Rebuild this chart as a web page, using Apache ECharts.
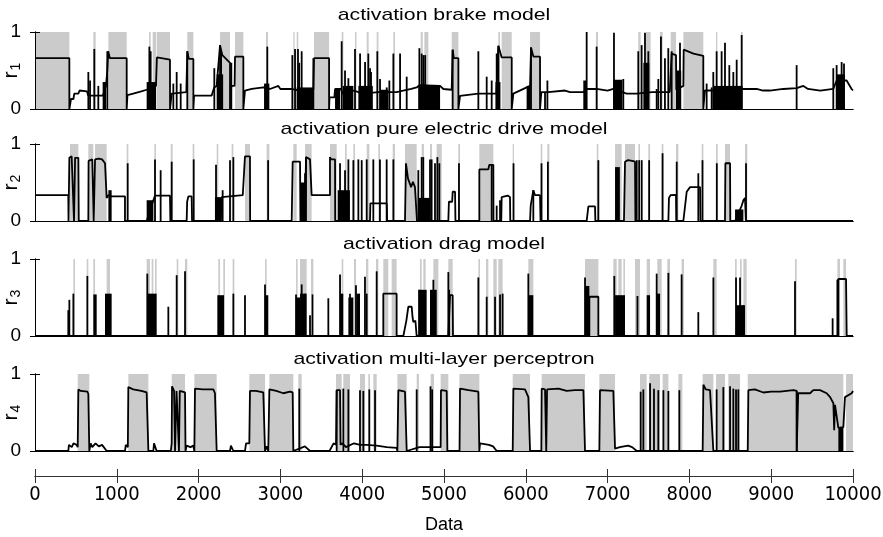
<!DOCTYPE html>
<html>
<head>
<meta charset="utf-8">
<script src="https://cdn.jsdelivr.net/npm/echarts@6/dist/echarts.min.js"></script>
<style>
  html, body { margin: 0; padding: 0; background: #fff; }
  #chart { width: 883px; height: 537px; }
</style>
</head>
<body>
<div id="chart"></div>
<script>
const titles = [
  'activation brake model',
  'activation pure electric drive model',
  'activation drag model',
  'activation multi-layer perceptron'
]
const xTicks = [0, 1000, 2000, 3000, 4000, 5000, 6000, 7000, 8000, 9000, 10000]
const yTicks = [0, 1]

// brake model
const r1Line = [
  [0, 0.66], [420, 0.66], [420, 0], [440, 0.13], [470, 0.13], [480, 0.2], [530, 0.2], [545, 0.24], [635, 0.23],
  [650, 0.175], [830, 0.175], [868, 0.3], [884, 0.5], [895, 0.75], [915, 0.66], [1121, 0.66], [1121, 0],
  [1130, 0.18], [1200, 0.2], [1300, 0.23], [1365, 0.25], [1479, 0.3], [1490, 0.67], [1650, 0.64], [1651, 0],
  [1671, 0.2], [1850, 0.22], [1862, 0.75], [1880, 0.65], [1936, 0.65], [1936, 0], [1945, 0.175], [2160, 0.175],
  [2190, 0.28], [2221, 0.3], [2262, 0.83], [2290, 0.7], [2384, 0.6], [2384, 0], [2400, 0.3], [2440, 0.3],
  [2445, 0.68], [2547, 0.68], [2547, 0], [2567, 0.24], [2650, 0.26], [2792, 0.28], [2873, 0.26], [2975, 0.3],
  [3000, 0.26], [3138, 0.26], [3300, 0.22], [3403, 0.25], [3411, 0.66], [3595, 0.66], [3595, 0], [3600, 0.15],
  [3660, 0.15], [3668, 0.26], [3740, 0.26], [3760, 0.2], [3900, 0.24], [4000, 0.2], [4200, 0.22], [4422, 0.22],
  [4500, 0.24], [4600, 0.26], [4666, 0.28], [4700, 0.31], [4952, 0.3], [4992, 0.26], [5094, 0.25], [5106, 0.77],
  [5120, 0.66], [5176, 0.66], [5176, 0], [5196, 0.17], [5420, 0.2], [5640, 0.2], [5665, 0.82], [5705, 0.67],
  [5828, 0.67], [5828, 0], [5848, 0.2], [6011, 0.28], [6052, 0.3], [6064, 0.8], [6093, 0.68], [6174, 0.68],
  [6174, 0], [6190, 0.22], [6276, 0.22], [6480, 0.24], [6540, 0.22], [6703, 0.22], [6744, 0.26], [6866, 0.26],
  [7000, 0.24], [7070, 0.26], [7233, 0.2], [7355, 0.2], [7540, 0.22], [7640, 0.22], [7760, 0.22], [7783, 0.72],
  [7836, 0.7], [7840, 0.25], [7926, 0.3], [7930, 0.77], [8050, 0.72], [8170, 0.69], [8170, 0], [8190, 0.24],
  [8292, 0.24], [8660, 0.26], [8822, 0.26], [8900, 0.24], [8985, 0.24], [9148, 0.26], [9311, 0.27], [9393, 0.3],
  [9450, 0.26], [9600, 0.24], [9759, 0.26], [9800, 0.37], [9922, 0.37], [9983, 0.26], [10000, 0.24]
]
const r1Spikes = [
  [652, 0.48], [673, 0.37], [725, 0.78], [774, 0.3], [884, 0.75], [1398, 0.81], [1414, 0.75], [1691, 0.33],
  [1732, 0.48], [1781, 0.33], [1862, 0.75], [2192, 0.53], [2262, 0.83], [2275, 0.75], [2400, 0.6], [2840, 0.81],
  [3146, 0.7], [3179, 0.78], [3215, 0.78], [3230, 0.6], [3260, 0.75], [3403, 0.66], [3749, 0.88], [3790, 0.5],
  [3831, 0.4], [3912, 0.78], [3974, 0.72], [4035, 0.61], [4075, 0.72], [4096, 0.53], [4108, 0.48], [4185, 0.75],
  [4218, 0.39], [4300, 0.28], [4332, 0.37], [4381, 0.72], [4463, 0.72], [4544, 0.42], [4699, 0.79], [4727, 0.72],
  [4748, 0.7], [4770, 0.7], [5106, 0.77], [5420, 0.75], [5522, 0.42], [5583, 0.37], [5644, 0.72], [5665, 0.82],
  [6064, 0.8], [6235, 0.22], [6264, 0.37], [6744, 1.0], [6866, 0.81], [7078, 0.99], [7111, 0.37], [7192, 0.39],
  [7375, 0.75], [7416, 0.83], [7457, 0.99], [7498, 0.75], [7600, 0.26], [7620, 0.39], [7652, 0.94], [7701, 0.66],
  [7742, 0.79], [7783, 0.75], [7885, 0.86], [8211, 0.33], [8272, 0.28], [8292, 0.48], [8333, 0.75], [8394, 0.75],
  [8435, 0.86], [8488, 0.57], [8537, 0.48], [8578, 0.64], [8639, 0.96], [9311, 0.57], [9759, 0.53], [9800, 0.57],
  [9861, 0.61], [9890, 0.59]
]
const r1Blocks = [
  [827, 868, 0.35], [1365, 1480, 0.35], [2221, 2300, 0.45], [2800, 2865, 0.33], [3199, 3400, 0.28],
  [3668, 3729, 0.26], [3762, 3892, 0.3], [3953, 4130, 0.3], [4218, 4320, 0.25], [4687, 4952, 0.31],
  [5630, 5690, 0.35], [6010, 6060, 0.3], [6703, 6744, 0.37], [7070, 7180, 0.38], [7437, 7510, 0.6],
  [7836, 7900, 0.5], [8292, 8650, 0.3], [9800, 9900, 0.45]
]
const r1Shade = [
  [0, 420], [713, 742], [897, 1121], [1394, 1414], [1439, 1479], [1488, 1651], [1862, 1936], [2262, 2384],
  [2445, 2547], [2824, 2848], [3158, 3174], [3199, 3219], [3411, 3595], [3749, 3770], [3912, 3930], [4055, 4079],
  [4177, 4198], [4381, 4401], [4715, 4740], [4760, 4809], [5094, 5176], [5664, 5685], [5705, 5828], [6052, 6174],
  [6858, 6882], [7375, 7404], [7469, 7526], [7640, 7673], [7771, 7836], [7926, 8170], [8325, 8341], [8631, 8651]
]

// pure electric drive model
const r2Line = [
  [0, 0.335], [407, 0.335], [410, 0], [420, 0], [420, 0.82], [448, 0.84], [460, 0.86], [470, 0.82], [477, 0],
  [490, 0.82], [530, 0.82], [535, 0], [652, 0], [655, 0.78], [700, 0.8], [713, 0.8], [718, 0], [734, 0.8],
  [780, 0.81], [820, 0.8], [856, 0.75], [876, 0.3], [897, 0.335], [937, 0.32], [1100, 0.32], [1100, 0],
  [1365, 0], [1447, 0.27], [1467, 0.33], [1650, 0.33], [1655, 0], [1854, 0], [1860, 0.25], [1875, 0.32],
  [1915, 0.32], [1920, 0], [2270, 0], [2282, 0.31], [2300, 0.335], [2540, 0.335], [2567, 0.84], [2628, 0.84],
  [2630, 0], [3138, 0], [3150, 0.77], [3240, 0.77], [3245, 0], [3300, 0], [3313, 0.83], [3362, 0.8],
  [3382, 0.335], [3606, 0.335], [3606, 0.83], [3620, 0.8], [3668, 0.8], [3670, 0], [4095, 0], [4100, 0.23],
  [4300, 0.23], [4305, 0], [4523, 0], [4535, 0.75], [4560, 0.55], [4598, 0.44], [4620, 0.51], [4645, 0.44],
  [4666, 0.42], [4670, 0], [5053, 0], [5060, 0.25], [5100, 0.25], [5106, 0.38], [5135, 0.38], [5140, 0],
  [5432, 0], [5432, 0.67], [5542, 0.67], [5554, 0.73], [5603, 0.73], [5605, 0], [5700, 0], [5705, 0.31],
  [5780, 0.33], [5807, 0.31], [5810, 0], [6052, 0], [6060, 0.2], [6092, 0.4], [6113, 0.335], [6174, 0.335],
  [6180, 0], [6744, 0], [6765, 0.19], [6846, 0.19], [6850, 0], [7200, 0], [7213, 0.77], [7250, 0.79],
  [7300, 0.78], [7335, 0.77], [7340, 0], [7743, 0], [7750, 0.3], [7770, 0.335], [7836, 0.34], [7840, 0],
  [7926, 0], [7967, 0.38], [8008, 0.44], [8130, 0.44], [8135, 0], [8435, 0], [8440, 0.75], [8497, 0.75],
  [8500, 0], [8558, 0], [8640, 0.2], [8660, 0.27], [8680, 0.3], [8690, 0], [10000, 0]
]
const r2Spikes = [
  [1133, 0.75], [1467, 0.8], [1536, 0.66], [1671, 0.77], [1940, 0.8], [2213, 0.73], [2294, 0.4], [2384, 0.79],
  [2425, 0.83], [2850, 0.79], [3301, 0.62], [3313, 0.83], [3729, 0.75], [3790, 0.66], [3831, 0.8], [3892, 0.79],
  [3953, 0.8], [3994, 0.79], [4055, 0.8], [4136, 0.8], [4217, 0.8], [4299, 0.8], [4381, 0.8], [4686, 0.66],
  [4727, 0.83], [4747, 0.83], [4829, 0.8], [4849, 0.8], [4890, 0.75], [4919, 0.83], [4943, 0.75], [5183, 0.75],
  [5583, 0.73], [5644, 0.2], [5685, 0.27], [5850, 0.75], [6092, 0.4], [6192, 0.75], [6270, 0.77], [6887, 0.79],
  [7356, 0.79], [7386, 0.79], [7417, 0.79], [7508, 0.79], [7672, 0.88], [7845, 0.77], [8109, 0.62], [8160, 0.79],
  [8335, 0.75], [8692, 0.75]
]
const r2Blocks = [
  [897, 937, 0.4], [1365, 1447, 0.27], [2200, 2282, 0.31], [3240, 3301, 0.5], [3700, 3850, 0.4],
  [4686, 4829, 0.3], [7091, 7150, 0.7], [8558, 8660, 0.15]
]
const r2Shade = [
  [428, 530], [652, 713], [734, 876], [1121, 1141], [1459, 1479], [1659, 1683], [1927, 1948], [2221, 2241],
  [2404, 2425], [2567, 2628], [2832, 2865], [3158, 3199], [3301, 3382], [3606, 3688], [3790, 3810], [3892, 3912],
  [4055, 4088], [4197, 4217], [4373, 4401], [4523, 4666], [4727, 4755], [4829, 4853], [4910, 4972], [5175, 5196],
  [5432, 5603], [5840, 5856], [6182, 6202], [6263, 6288], [6867, 6887], [7091, 7172], [7213, 7335], [7376, 7396],
  [7498, 7519], [7661, 7682], [7836, 7865], [8150, 8171], [8325, 8346], [8435, 8497], [8680, 8708]
]

// drag model
const r3Line = [
  [0, 0], [4258, 0], [4258, 0.55], [4421, 0.55], [4421, 0], [4503, 0], [4540, 0.2], [4564, 0.38], [4605, 0.38],
  [4615, 0.25], [4625, 0.18], [4650, 0.2], [4666, 0], [5053, 0], [5074, 0.53], [5106, 0.53], [5110, 0],
  [6777, 0], [6777, 0.51], [6887, 0.51], [6887, 0], [9821, 0], [9821, 0.74], [9915, 0.74], [9923, 0], [10000, 0]
]
const r3Spikes = [
  [407, 0.335], [420, 0.47], [469, 0.55], [640, 0.78], [1373, 0.81], [1630, 0.38], [1732, 0.79], [1834, 0.84],
  [2425, 0.55], [2567, 0.53], [2812, 0.67], [3191, 0.54], [3260, 0.67], [3301, 0.55], [3362, 0.27], [3586, 0.49],
  [3729, 0.8], [3851, 0.55], [3924, 0.66], [4034, 0.77], [4055, 0.55], [4177, 0.84], [4698, 0.6], [4747, 0.55],
  [4870, 0.73], [5053, 0.83], [5420, 0.76], [5522, 0.51], [5624, 0.51], [5685, 0.54], [5717, 0.55], [6031, 0.81],
  [6724, 0.76], [7082, 0.78], [7365, 0.52], [7600, 0.81], [7743, 0.82], [7905, 0.8], [8109, 0.31], [8293, 0.76],
  [8570, 0.76], [8619, 0.76], [8660, 0.4], [9291, 0.71], [9751, 0.23], [9809, 0.73]
]
const r3Blocks = [
  [713, 754, 0.54], [856, 937, 0.55], [1373, 1487, 0.55], [2229, 2311, 0.53], [2812, 2852, 0.53],
  [3191, 3240, 0.5], [3240, 3321, 0.55], [3382, 3403, 0.54], [3729, 3769, 0.55], [3831, 3892, 0.5],
  [3932, 3973, 0.55], [4686, 4788, 0.6], [4829, 4911, 0.6], [5053, 5074, 0.6], [6031, 6092, 0.53],
  [6724, 6777, 0.65], [7091, 7213, 0.53], [7478, 7519, 0.53], [7600, 7641, 0.55], [8570, 8680, 0.4],
  [9809, 9821, 0.74]
]
const r3Shade = [
  [469, 489], [632, 652], [713, 734], [876, 917], [1365, 1406], [1426, 1447], [1467, 1487], [1732, 1752],
  [1834, 1862], [2241, 2262], [2302, 2323], [2416, 2437], [2812, 2832], [3191, 3211], [3240, 3321], [3374, 3403],
  [3749, 3769], [3900, 3924], [4046, 4075], [4169, 4197], [4258, 4319], [4360, 4421], [4706, 4727], [4747, 4776],
  [4870, 4931], [5053, 5106], [5420, 5440], [5514, 5542], [5603, 5644], [5664, 5717], [6031, 6092], [6724, 6887],
  [7070, 7111], [7131, 7172], [7193, 7213], [7335, 7396], [7478, 7519], [7608, 7661], [7730, 7763], [7905, 7934],
  [8293, 8333], [8558, 8578], [8619, 8639], [8660, 8700], [9291, 9312], [9809, 9841], [9882, 9915]
]

// multi-layer perceptron
const r4Line = [
  [0, 0], [407, 0], [415, 0.08], [430, 0.1], [450, 0.05], [470, 0.1], [509, 0.08], [522, 0.05], [530, 0.8],
  [560, 0.78], [640, 0.77], [652, 0.74], [664, 0], [680, 0.1], [700, 0.05], [740, 0.1], [780, 0.06], [820, 0.08],
  [876, 0], [1100, 0], [1110, 0.08], [1135, 0.05], [1141, 0.83], [1200, 0.8], [1300, 0.78], [1365, 0.76],
  [1386, 0], [1447, 0], [1455, 0.1], [1470, 0.1], [1487, 0], [1660, 0], [1671, 0.1], [1675, 0.84], [1700, 0.78],
  [1712, 0.78], [1712, 0], [1730, 0.78], [1752, 0.78], [1760, 0], [1770, 0.78], [1834, 0.76], [1840, 0],
  [1854, 0.07], [1900, 0.05], [1936, 0.07], [1948, 0], [1956, 0.81], [2050, 0.8], [2180, 0.8], [2200, 0.75],
  [2221, 0], [2384, 0], [2395, 0.07], [2425, 0], [2567, 0], [2580, 0.1], [2620, 0.1], [2628, 0.78], [2700, 0.78],
  [2791, 0.76], [2812, 0], [2830, 0.06], [2852, 0], [2865, 0.8], [2950, 0.78], [3036, 0.75], [3117, 0.77],
  [3150, 0.76], [3158, 0], [3300, 0.06], [3362, 0], [3600, 0], [3650, 0.1], [3680, 0.08], [3688, 0.79],
  [3729, 0.79], [3735, 0.08], [3760, 0.1], [3800, 0.05], [3900, 0.1], [3973, 0.08], [4050, 0.08], [4177, 0.07],
  [4300, 0.05], [4421, 0.04], [4430, 0], [4442, 0.79], [4523, 0.77], [4544, 0], [4700, 0.05], [4837, 0.05],
  [4959, 0.05], [4963, 0.79], [5033, 0.78], [5041, 0], [5190, 0], [5196, 0.81], [5300, 0.79], [5420, 0.77],
  [5432, 0], [5440, 0.1], [5550, 0.08], [5600, 0.06], [5644, 0], [5840, 0], [5848, 0.81], [5990, 0.8],
  [6031, 0.7], [6052, 0], [6190, 0], [6194, 0.81], [6235, 0.8], [6250, 0], [6260, 0.8], [6400, 0.81],
  [6500, 0.78], [6600, 0.79], [6704, 0.79], [6724, 0], [6899, 0], [6907, 0.79], [7070, 0.78], [7091, 0.03],
  [7150, 0.05], [7250, 0.07], [7300, 0.05], [7356, 0], [8162, 0], [8171, 0.86], [8200, 0.8], [8252, 0.79],
  [8293, 0], [8713, 0], [8721, 0.79], [8800, 0.8], [8904, 0.76], [9000, 0.77], [9108, 0.77], [9271, 0.79],
  [9312, 0.78], [9312, 0], [9330, 0.75], [9475, 0.75], [9515, 0.79], [9597, 0.79], [9678, 0.75], [9720, 0.7],
  [9760, 0.62], [9770, 0.27], [9780, 0.6], [9821, 0.3], [9882, 0.31], [9902, 0.7], [9984, 0.75], [10000, 0.78]
]
const r4Spikes = [
  [3231, 0.81], [3688, 0.79], [3769, 0.81], [3831, 0.8], [3973, 0.79], [4014, 0.78], [4087, 0.8], [4157, 0.79],
  [4666, 0.8], [4835, 0.84], [4855, 0.8], [7404, 0.77], [7437, 0.8], [7519, 0.88], [7567, 0.81], [7620, 0.79],
  [7682, 0.79], [7743, 0.78], [7877, 0.79], [8333, 0.8], [8415, 0.83], [8497, 0.84], [8537, 0.81], [8570, 0.8],
  [8598, 0.8], [9312, 0.78]
]
const r4Blocks = [
  [9821, 9882, 0.31]
]
const r4Shade = [
  [522, 664], [1141, 1386], [1671, 1834], [1948, 2221], [2620, 2812], [2865, 3158], [3219, 3260], [3680, 3749],
  [3769, 3851], [3973, 4034], [4075, 4095], [4136, 4177], [4430, 4544], [4666, 4694], [4837, 4878], [4959, 5053],
  [5188, 5432], [5840, 6052], [6194, 6724], [6899, 7091], [7396, 7478], [7510, 7641], [7673, 7743], [7865, 7914],
  [8162, 8293], [8325, 8435], [8476, 8619], [8713, 9882], [9915, 10000]
]

const lines = [r1Line, r2Line, r3Line, r4Line]
const spikes = [r1Spikes, r2Spikes, r3Spikes, r4Spikes]
const blocks = [r1Blocks, r2Blocks, r3Blocks, r4Blocks]
const shades = [r1Shade, r2Shade, r3Shade, r4Shade]

const FONT = 'Liberation Sans, Arial, sans-serif'
const NARROW = '"Liberation Sans Narrow", "DejaVu Sans Condensed", sans-serif'
const SHADE = '#cbcbcb'
const INK = '#000000'
const LW = 1.8
const panelTops = [32, 144, 259, 374]
const panelHeight = 77
const titleCenters = [15, 129, 244, 359]

const chart = echarts.init(document.getElementById('chart'), null, { renderer: 'canvas' })

const grid = panelTops.map((top) => ({ left: 35, width: 818, top, height: panelHeight, outerBoundsMode: 'none' }))
grid.push({ left: 35, width: 818, top: 470, height: 6, outerBoundsMode: 'none' })

const xAxis = []
const yAxis = []
const series = []

panelTops.forEach((top, i) => {
  const base = {
    type: 'value', gridIndex: i, min: 0, max: 10000, interval: 1000, z: 10,
    axisLine: { show: true, lineStyle: { color: INK, width: 1 } },
    axisTick: { show: false }, axisLabel: { show: false }, splitLine: { show: false }
  }
  xAxis.push({ ...base, position: 'bottom' })
  xAxis.push({ ...base, position: 'top' })

  const yBase = {
    type: 'value', gridIndex: i, min: yTicks[0], max: yTicks[1], interval: 1, z: 10,
    axisLine: { show: true, lineStyle: { color: INK, width: 1 } },
    axisTick: { show: true, inside: true, length: 5, lineStyle: { color: INK } },
    splitLine: { show: false }
  }
  yAxis.push({
    ...yBase,
    position: 'left',
    axisLabel: { show: true, margin: 14, color: INK, fontSize: 19, fontFamily: FONT },
    name: `{r|r}{s|${i + 1}}`,
    nameLocation: 'middle',
    nameGap: 12,
    nameRotate: 90,
    nameMoveOverlap: false,
    nameTextStyle: {
      color: INK,
      fontFamily: FONT,
      rich: {
        r: { fontSize: 21, fontFamily: FONT, color: INK },
        s: { fontSize: 14, fontFamily: FONT, color: INK, padding: [10, 0, 0, 1] }
      }
    }
  })
  yAxis.push({ ...yBase, position: 'right', axisLabel: { show: false } })

  const xi = i * 2
  const yi = i * 2

  series.push({
    type: 'custom',
    xAxisIndex: xi,
    yAxisIndex: yi,
    z: 1,
    silent: true,
    clip: true,
    data: shades[i],
    encode: { x: [0, 1] },
    renderItem: (params, api) => {
      const a = api.coord([api.value(0), 1])
      const b = api.coord([api.value(1), 0])
      return {
        type: 'rect',
        shape: { x: a[0], y: a[1], width: Math.max(b[0] - a[0], 1), height: b[1] - a[1] },
        style: { fill: SHADE }
      }
    }
  })
  series.push({
    type: 'custom',
    xAxisIndex: xi,
    yAxisIndex: yi,
    z: 3,
    silent: true,
    clip: true,
    data: blocks[i],
    encode: { x: [0, 1], y: 2 },
    renderItem: (params, api) => {
      const a = api.coord([api.value(0), api.value(2)])
      const b = api.coord([api.value(1), 0])
      return {
        type: 'rect',
        shape: { x: a[0], y: a[1], width: b[0] - a[0], height: b[1] - a[1] },
        style: { fill: INK }
      }
    }
  })
  series.push({
    type: 'custom',
    xAxisIndex: xi,
    yAxisIndex: yi,
    z: 3,
    silent: true,
    clip: true,
    data: spikes[i],
    encode: { x: 0, y: 1 },
    renderItem: (params, api) => {
      const a = api.coord([api.value(0), 0])
      const b = api.coord([api.value(0), api.value(1)])
      return {
        type: 'line',
        shape: { x1: a[0], y1: a[1], x2: b[0], y2: b[1] },
        style: { stroke: INK, lineWidth: LW }
      }
    }
  })
  series.push({
    type: 'line',
    xAxisIndex: xi,
    yAxisIndex: yi,
    z: 4,
    silent: true,
    showSymbol: false,
    symbol: 'none',
    animation: false,
    data: lines[i],
    lineStyle: { color: INK, width: LW }
  })
})

// shared bottom axis (ticks cross the line)
const bottomBase = {
  type: 'value', gridIndex: 4, min: xTicks[0], max: xTicks[xTicks.length - 1], interval: 1000,
  position: 'bottom', offset: 0, splitLine: { show: false },
  axisLine: { show: true, lineStyle: { color: '#333', width: 1 } }
}
xAxis.push({
  ...bottomBase,
  axisTick: { show: true, inside: false, length: 7, lineStyle: { color: '#333' } },
  axisLabel: {
    show: true, margin: 9, color: INK, fontSize: 20, fontFamily: NARROW,
    formatter: (v) => String(v)
  },
  name: 'Data',
  nameLocation: 'middle',
  nameGap: 40,
  nameMoveOverlap: false,
  nameTextStyle: { color: INK, fontSize: 18, fontFamily: FONT }
})
xAxis.push({
  ...bottomBase,
  axisTick: { show: true, inside: true, length: 7, lineStyle: { color: '#333' } },
  axisLabel: { show: false }
})
yAxis.push({ type: 'value', gridIndex: 4, show: false, min: 0, max: 1 })

chart.setOption({
  backgroundColor: '#ffffff',
  animation: false,
  graphic: titles.map((text, i) => ({
    type: 'text',
    x: 444,
    y: titleCenters[i],
    scaleX: 1.25,
    silent: true,
    style: {
      text,
      fill: INK,
      fontSize: 17,
      fontFamily: FONT,
      align: 'center',
      verticalAlign: 'middle',
      textAlign: 'center',
      textVerticalAlign: 'middle'
    }
  })),
  grid,
  xAxis,
  yAxis,
  series
})
</script>
</body>
</html>
